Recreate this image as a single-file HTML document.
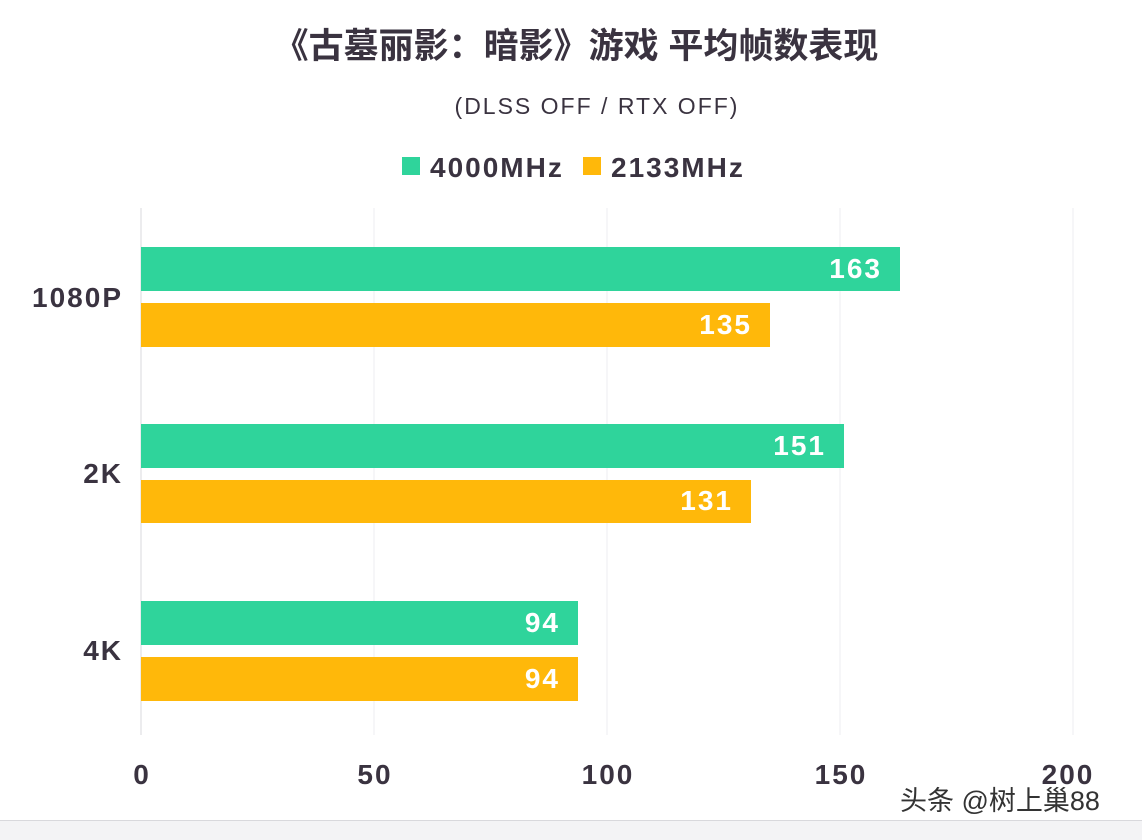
<!DOCTYPE html>
<html><head><meta charset="utf-8"><style>
html,body{margin:0;padding:0;background:#fff;}
body{width:1142px;height:840px;position:relative;overflow:hidden;font-family:"Liberation Sans","Noto Sans CJK SC",sans-serif;}
</style></head><body>
<svg width="1142" height="840" xmlns="http://www.w3.org/2000/svg" style="position:absolute;left:0;top:0">
<rect x="0" y="820" width="1142" height="20" fill="#f3f3f5"/>
<line x1="0" y1="820.5" x2="1142" y2="820.5" stroke="#d8d8dc"/>
<g stroke="#ececf0" stroke-width="1">
<line x1="374" y1="208" x2="374" y2="735"/><line x1="607" y1="208" x2="607" y2="735"/>
<line x1="840" y1="208" x2="840" y2="735"/><line x1="1073" y1="208" x2="1073" y2="735"/>
</g>
<line x1="141" y1="208" x2="141" y2="735" stroke="#d8d8dc"/>
<text x="576" y="58" text-anchor="middle" font-size="35" font-weight="bold" fill="#3a3340" font-family="Liberation Sans,Noto Sans CJK SC,sans-serif">《古墓丽影：暗影》游戏 平均帧数表现</text>
<text x="597" y="114" text-anchor="middle" font-size="23" fill="#3a3340" letter-spacing="2">(DLSS OFF / RTX OFF)</text>
<rect x="402" y="157" width="18" height="18" fill="#2fd49b"/>
<text x="430" y="177" font-size="28" font-weight="bold" fill="#3a3340" letter-spacing="2">4000MHz</text>
<rect x="583" y="157" width="18" height="18" fill="#ffb80a"/>
<text x="611" y="177" font-size="28" font-weight="bold" fill="#3a3340" letter-spacing="2">2133MHz</text>
<g fill="#2fd49b"><rect x="141" y="247" width="759" height="44"/><rect x="141" y="424" width="703" height="44"/><rect x="141" y="601" width="437" height="44"/></g>
<g fill="#ffb80a"><rect x="141" y="303" width="629" height="44"/><rect x="141" y="480" width="610" height="43"/><rect x="141" y="657" width="437" height="44"/></g>
<g fill="#fff" font-size="28" font-weight="bold" text-anchor="end" letter-spacing="2">
<text x="882" y="278">163</text><text x="752" y="334">135</text>
<text x="826" y="455">151</text><text x="733" y="510">131</text>
<text x="560" y="632">94</text><text x="560" y="688">94</text>
</g>
<g fill="#3a3340" font-size="28" font-weight="bold" text-anchor="end" letter-spacing="2">
<text x="123" y="307">1080P</text><text x="123" y="483">2K</text><text x="123" y="660">4K</text>
</g>
<g fill="#3a3340" font-size="28" font-weight="bold" text-anchor="middle" letter-spacing="2">
<text x="142" y="784">0</text><text x="375" y="784">50</text><text x="608" y="784">100</text><text x="841" y="784">150</text><text x="1068" y="784">200</text>
</g>
<text x="900" y="810" font-size="27" fill="#333" stroke="#fff" stroke-width="0.6" paint-order="stroke">头条 @树上巢88</text>
</svg>
</body></html>
